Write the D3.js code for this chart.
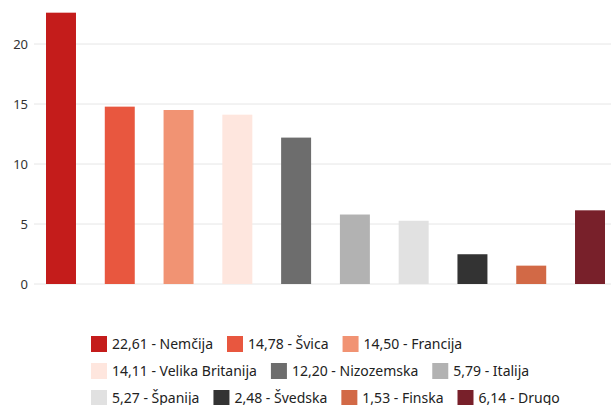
<!DOCTYPE html>
<html>
<head>
<meta charset="utf-8">
<script src="https://cdn.jsdelivr.net/npm/d3@7"></script>
<style>
  body { margin: 0; background: #fff; }
  svg { font-family: "Segoe UI", "Noto Sans", sans-serif; }
</style>
</head>
<body>
<svg width="611" height="405"></svg>
<script>
const countries = ["Nemčija", "Švica", "Francija", "Velika Britanija", "Nizozemska", "Italija", "Španija", "Švedska", "Finska", "Drugo"];
const shares = [22.61, 14.78, 14.50, 14.11, 12.20, 5.79, 5.27, 2.48, 1.53, 6.14];
const shareLabels = ["22,61", "14,78", "14,50", "14,11", "12,20", "5,79", "5,27", "2,48", "1,53", "6,14"];
const colors = ["#c41c1b", "#e8573f", "#f19373", "#fee6de", "#6d6d6d", "#b2b2b2", "#e1e1e1", "#333333", "#d26946", "#78202a"];
const yTicks = [0, 5, 10, 15, 20];

const svg = d3.select("svg");

const x = d3.scaleBand()
  .domain(countries)
  .range([31.6, 619.4])
  .paddingInner(0.49)
  .paddingOuter(0.245);

const y = d3.scaleLinear()
  .domain([0, 20])
  .range([284, 44]);

// grid
svg.append("g")
  .selectAll("line")
  .data(yTicks)
  .join("line")
  .attr("x1", 34)
  .attr("x2", 611)
  .attr("y1", d => y(d))
  .attr("y2", d => y(d))
  .attr("stroke", "#e6e6e6")
  .attr("stroke-width", 1);

svg.append("g")
  .selectAll("text")
  .data(yTicks)
  .join("text")
  .attr("x", 28)
  .attr("y", d => y(d))
  .attr("dy", "0.35em")
  .attr("text-anchor", "end")
  .attr("font-size", 13)
  .attr("fill", "#333")
  .text(d => d);

// bars
svg.append("g")
  .selectAll("rect")
  .data(countries)
  .join("rect")
  .attr("x", d => x(d))
  .attr("width", x.bandwidth())
  .attr("y", (d, i) => y(shares[i]))
  .attr("height", (d, i) => y(0) - y(shares[i]))
  .attr("fill", (d, i) => colors[i]);

// legend, flowing left to right
const legend = svg.append("g");
const left = 91, maxRight = 580, rowH = 27, sw = 16;
let cx = left, cy = 336;
countries.forEach((c, i) => {
  const g = legend.append("g");
  g.append("rect")
    .attr("width", sw)
    .attr("height", sw)
    .attr("fill", colors[i]);
  const t = g.append("text")
    .attr("x", sw + 5)
    .attr("y", sw / 2)
    .attr("dy", "0.36em")
    .attr("font-size", 14)
    .attr("fill", "#222")
    .text(shareLabels[i] + " - " + c);
  const w = sw + 5 + t.node().getComputedTextLength();
  if (cx + w > maxRight && cx > left) {
    cx = left;
    cy += rowH;
  }
  g.attr("transform", `translate(${cx},${cy})`);
  cx += w + 14;
});
</script>
</body>
</html>
